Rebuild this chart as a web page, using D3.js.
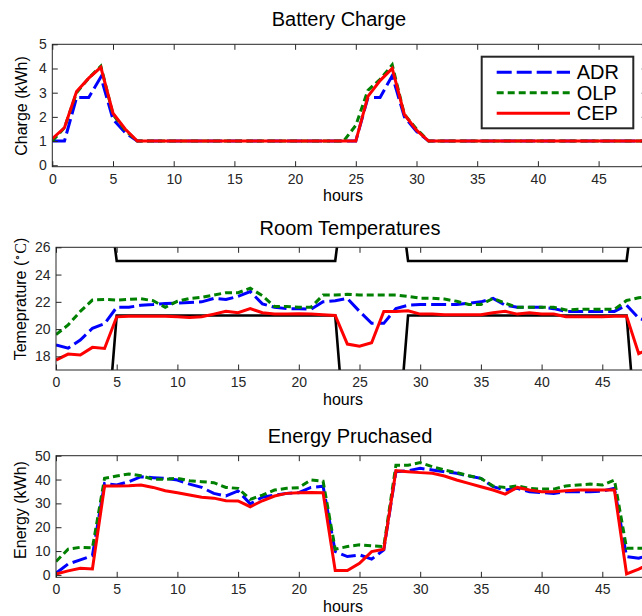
<!DOCTYPE html>
<html>
<head>
<meta charset="utf-8">
<script src="https://cdn.jsdelivr.net/npm/d3@7/dist/d3.min.js"></script>
<style>
  body { margin: 0; background: #fff; }
  svg { display: block; font-family: "Liberation Sans", Arial, Helvetica, sans-serif; }
</style>
</head>
<body>
<svg id="chart" width="642" height="616"></svg>
<script>
// hours 0..49
var hours = [0,1,2,3,4,5,6,7,8,9,10,11,12,13,14,15,16,17,18,19,20,21,22,23,24,25,26,27,28,29,30,31,32,33,34,35,36,37,38,39,40,41,42,43,44,45,46,47,48,49];
var xTicks = [0,5,10,15,20,25,30,35,40,45];
var seriesNames = ['ADR', 'OLP', 'CEP'];

// battery charge (kWh)
var chargeADR = [1.0,1.0,2.8,2.8,3.65,1.9,1.35,1.0,1.0,1.0, 1.0,1.0,1.0,1.0,1.0,1.0,1.0,1.0,1.0,1.0, 1.0,1.0,1.0,1.0,1.0,1.0,2.8,2.8,3.7,2.0, 1.4,1.0,1.0,1.0,1.0,1.0,1.0,1.0,1.0,1.0, 1.0,1.0,1.0,1.0,1.0,1.0,1.0,1.0,1.0,1.0];
var chargeOLP = [1.0,1.55,3.0,3.6,4.1,2.1,1.45,1.0,1.0,1.0, 1.0,1.0,1.0,1.0,1.0,1.0,1.0,1.0,1.0,1.0, 1.0,1.0,1.0,1.0,1.0,1.65,3.1,3.55,4.15,2.1, 1.5,1.0,1.0,1.0,1.0,1.0,1.0,1.0,1.0,1.0, 1.0,1.0,1.0,1.0,1.0,1.0,1.0,1.0,1.0,1.0];
var chargeCEP = [1.1,1.55,3.05,3.6,4.05,2.15,1.5,1.0,1.0,1.0, 1.0,1.0,1.0,1.0,1.0,1.0,1.0,1.0,1.0,1.0, 1.0,1.0,1.0,1.0,1.0,1.0,2.85,3.5,4.0,2.1, 1.45,1.0,1.0,1.0,1.0,1.0,1.0,1.0,1.0,1.0, 1.0,1.0,1.0,1.0,1.0,1.0,1.0,1.0,1.0,1.0];

// room temperatures (C)
var tempADR = [18.83,18.6,19.2,20.06,20.4,21.6,21.6,21.75,21.8,21.87, 21.9,21.95,22.0,22.25,22.17,22.4,22.75,21.85,21.6,21.5, 21.5,21.45,22.0,22.08,22.25,21.3,20.42,20.42,21.5,21.75, 21.8,21.8,21.8,21.8,21.9,22.0,22.25,21.75,21.6,21.6, 21.6,21.5,21.3,21.3,21.3,21.3,21.3,21.75,20.8,20.5];
var tempOLP = [19.6,20.3,21.3,22.13,22.18,22.13,22.18,22.23,22.08,21.6, 22.04,22.25,22.33,22.5,22.67,22.67,23.0,22.45,21.65,21.65, 21.6,21.6,22.5,22.5,22.55,22.5,22.5,22.5,22.5,22.4, 22.27,22.27,22.2,22.04,21.8,21.8,22.25,21.9,21.6,21.6, 21.6,21.6,21.4,21.45,21.45,21.45,21.45,22.1,22.3,22.4];
var tempCEP = [17.73,18.17,18.1,18.66,18.58,20.9,20.95,20.95,20.95,20.95, 20.9,20.85,20.9,21.1,21.3,21.2,21.5,21.2,21.1,21.1, 21.13,21.1,21.05,21.0,18.9,18.75,19.0,21.3,21.3,21.35, 21.1,21.1,21.05,21.05,21.05,21.05,21.2,21.3,21.1,21.2, 21.1,21.1,20.9,20.9,20.9,20.9,20.95,20.95,18.2,18.6];
var tempLower = [10,10,10,10,10,21,21,21,21,21, 21,21,21,21,21,21,21,21,21,21, 21,21,21,21,10,10,10,10,10,21, 21,21,21,21,21,21,21,21,21,21, 21,21,21,21,21,21,21,21,10,10];
var tempUpper = [32,32,32,32,32,25,25,25,25,25, 25,25,25,25,25,25,25,25,25,25, 25,25,25,25,32,32,32,32,32,25, 25,25,25,25,25,25,25,25,25,25, 25,25,25,25,25,25,25,25,32,32];

// energy purchased (kWh)
var energyADR = [0.7,4.6,6.3,8.1,38.4,37.7,39.1,41.2,40.8,40.5, 39.8,38.1,36.7,34.2,33.1,35.2,29.8,32.6,33.5,34.2, 34.5,36.7,37.2,9.8,7.7,8.4,6.6,10.5,43.3,43.7, 44.7,44.0,43.3,42.6,41.5,40.5,37.0,35.6,36.3,34.9, 34.5,34.2,34.9,34.9,34.9,35.2,36.3,7.7,7.0,8.5];
var energyOLP = [5.6,10.8,11.6,11.3,40.5,41.5,42.3,41.6,40.1,40.1, 40.5,39.5,39.1,38.7,36.7,36.3,31.7,33.5,35.6,36.3, 36.6,39.8,39.3,10.8,11.9,12.6,12.2,11.9,46.0,46.0, 47.1,45.4,44.0,42.9,41.6,40.5,37.3,36.7,37.3,36.3, 36.0,36.0,37.3,37.7,38.1,37.7,39.8,11.2,11.2,11.2];
var energyCEP = [0.4,1.7,2.8,2.5,37.3,37.3,37.4,37.7,36.7,35.3, 34.5,33.5,32.6,32.2,31.1,31.0,28.6,31.1,33.1,34.2, 34.5,34.6,34.5,1.8,1.8,4.9,9.8,10.8,43.7,43.3, 42.9,42.6,41.5,39.8,38.4,37.0,35.6,33.9,36.7,35.6, 34.9,34.9,35.3,35.6,35.6,35.6,35.6,0.4,2.4,5.0];

var styles = {
  ADR: { color: '#0000ff', dash: '15,5' },
  OLP: { color: '#008000', dash: '7,4' },
  CEP: { color: '#ff0000', dash: null }
};

var panels = [
  { title: 'Battery Charge', titleX: 339, titleY: 26,
    ylabel: 'Charge (kWh)', ylabelX: 27, ylabelY: 106,
    left: 52.3, top: 44.3, bottom: 166.7, ydom: [-0.06, 5], yticks: [0,1,2,3,4,5],
    series: { ADR: chargeADR, OLP: chargeOLP, CEP: chargeCEP }, legend: true },
  { title: 'Room Temperatures', titleX: 350, titleY: 235,
    ylabel: 'Temeprature', ylabelX: 26, ylabelY: 299,
    left: 56, top: 247.3, bottom: 370, ydom: [17, 26], yticks: [18,20,22,24,26],
    bounds: [tempLower, tempUpper],
    series: { ADR: tempADR, OLP: tempOLP, CEP: tempCEP } },
  { title: 'Energy Pruchased', titleX: 350, titleY: 443,
    ylabel: 'Energy (kWh)', ylabelX: 26, ylabelY: 510,
    left: 56, top: 455.7, bottom: 577.3, ydom: [-1, 50], yticks: [0,10,20,30,40,50],
    series: { ADR: energyADR, OLP: energyOLP, CEP: energyCEP } }
];

var svg = d3.select('#chart');
var axisColor = '#262626';
var pxPerHour = 12.14;
var fmt = d3.format('d');

panels.forEach(function(p, i) {
  var right = p.left + 49 * pxPerHour;
  var x = d3.scaleLinear().domain([0, 49]).range([p.left, right]);
  var y = d3.scaleLinear().domain(p.ydom).range([p.bottom, p.top]);

  var clipId = 'clip' + i;
  svg.append('clipPath').attr('id', clipId)
    .append('rect')
      .attr('x', p.left).attr('y', p.top)
      .attr('width', right - p.left).attr('height', p.bottom - p.top);

  var g = svg.append('g');
  var plot = g.append('g').attr('clip-path', 'url(#' + clipId + ')');

  var line = function(vals) {
    return d3.line()
      .x(function(d, j) { return x(hours[j]); })
      .y(function(d) { return y(d); })(vals);
  };

  if (p.bounds) {
    p.bounds.forEach(function(b) {
      plot.append('path')
        .attr('d', line(b))
        .attr('fill', 'none')
        .attr('stroke', '#000')
        .attr('stroke-width', 2.6);
    });
  }

  seriesNames.forEach(function(name) {
    plot.append('path')
      .attr('d', line(p.series[name]))
      .attr('fill', 'none')
      .attr('stroke', styles[name].color)
      .attr('stroke-width', 3)
      .attr('stroke-dasharray', styles[name].dash);
  });

  // box + inward ticks
  g.append('rect')
    .attr('x', p.left).attr('y', p.top)
    .attr('width', right - p.left).attr('height', p.bottom - p.top)
    .attr('fill', 'none').attr('stroke', axisColor).attr('stroke-width', 1);

  var xb = g.append('g').attr('transform', 'translate(0,' + p.bottom + ')')
    .call(d3.axisBottom(x).tickValues(xTicks).tickFormat(fmt).tickSize(-5.5).tickPadding(7));
  var xt = g.append('g').attr('transform', 'translate(0,' + p.top + ')')
    .call(d3.axisTop(x).tickValues(xTicks).tickSize(-5.5).tickFormat(''));
  var yl = g.append('g').attr('transform', 'translate(' + p.left + ',0)')
    .call(d3.axisLeft(y).tickValues(p.yticks).tickFormat(fmt).tickSize(-5.5).tickPadding(5.5));
  var yr = g.append('g').attr('transform', 'translate(' + right + ',0)')
    .call(d3.axisRight(y).tickValues(p.yticks).tickSize(-5.5).tickFormat(''));

  [xb, xt, yl, yr].forEach(function(a) {
    a.select('.domain').remove();
    a.selectAll('line').attr('stroke', axisColor);
    a.selectAll('text')
      .attr('fill', axisColor)
      .style('font-size', '14px')
      .style('font-family', '"Liberation Sans", Arial, sans-serif');
  });

  g.append('text')
    .attr('x', p.titleX).attr('y', p.titleY)
    .attr('text-anchor', 'middle')
    .style('font-size', '20px')
    .attr('fill', '#000')
    .text(p.title);

  g.append('text')
    .attr('x', 343).attr('y', p.bottom + 34.5)
    .attr('text-anchor', 'middle')
    .style('font-size', '16px')
    .attr('fill', '#000')
    .text('hours');

  var yt = g.append('text')
    .attr('transform', 'translate(' + p.ylabelX + ',' + p.ylabelY + ') rotate(-90)')
    .attr('text-anchor', 'middle')
    .style('font-size', '16px')
    .attr('fill', '#000')
    .text(p.ylabel);
  if (i === 1) {
    yt.append('tspan').text(' (');
    yt.append('tspan').attr('dy', -5).style('font-size', '11px').text('\u2218');
    yt.append('tspan').attr('dy', 5).style('font-family', '"Liberation Serif", serif').text('C');
    yt.append('tspan').text(')');
  }

  if (p.legend) {
    var lg = g.append('g');
    lg.append('rect')
      .attr('x', 481.7).attr('y', 56.7)
      .attr('width', 151.6).attr('height', 71.6)
      .attr('fill', '#fff').attr('stroke', axisColor).attr('stroke-width', 2);
    seriesNames.forEach(function(name, k) {
      var ly = 72.3 + k * 20.5;
      lg.append('line')
        .attr('x1', 496.7).attr('x2', 570)
        .attr('y1', ly).attr('y2', ly)
        .attr('stroke', styles[name].color)
        .attr('stroke-width', 3)
        .attr('stroke-dasharray', styles[name].dash);
      lg.append('text')
        .attr('x', 576.7).attr('y', ly + 7)
        .style('font-size', '20px')
        .attr('fill', '#000')
        .text(name);
    });
  }
});
</script>
</body>
</html>
